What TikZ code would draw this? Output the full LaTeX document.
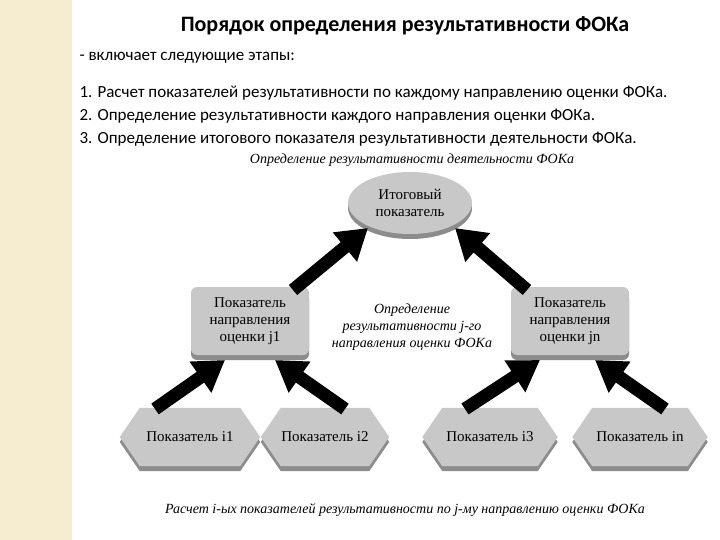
\documentclass[tikz,border=0pt]{standalone}
\usepackage{fontspec}
\setmainfont{Liberation Serif}
\newfontfamily\calib{Carlito}
\usetikzlibrary{shapes.geometric,arrows.meta,shadows}
\definecolor{boxgray}{RGB}{200,200,200}
\definecolor{shgray}{RGB}{140,140,140}
\definecolor{beige}{RGB}{246,236,208}
\tikzset{
 ell/.style={ellipse,fill=boxgray,minimum width=124pt,minimum height=62pt,inner sep=1pt,align=center,font=\fontsize{15}{17}\selectfont,
   drop shadow={shadow xshift=0pt,shadow yshift=-5pt,fill=shgray,opacity=1}},
 rbox/.style={rectangle,rounded corners=6pt,fill=boxgray,minimum width=118pt,minimum height=68pt,inner sep=1pt,align=center,font=\fontsize{15}{17}\selectfont,
   drop shadow={shadow xshift=0pt,shadow yshift=-5pt,fill=shgray,opacity=1}},
 hexlab/.style={rectangle,minimum height=58pt,inner sep=0pt},
 fat/.style={line width=13pt,black,-{Triangle[length=30pt,width=36pt]}},
 captxt/.style={font=\itshape\fontsize{14}{16}\selectfont,align=center},
 txt/.style={font=\calib\fontsize{17}{19}\selectfont,anchor=west},
}
\newcommand{\myhex}[5]{%
 \node[hexlab,minimum width=#4pt] (#1) at (#2,#3) {};
 \fill[shgray] ([yshift=-5pt]#1.west) -- ([xshift=20pt,yshift=-5pt]#1.north west) -- ([xshift=-20pt,yshift=-5pt]#1.north east) -- ([yshift=-5pt]#1.east) -- ([xshift=-20pt,yshift=-5pt]#1.south east) -- ([xshift=20pt,yshift=-5pt]#1.south west) -- cycle;
 \fill[boxgray] (#1.west) -- ([xshift=20pt]#1.north west) -- ([xshift=-20pt]#1.north east) -- (#1.east) -- ([xshift=-20pt]#1.south east) -- ([xshift=20pt]#1.south west) -- cycle;
 \node[font=\fontsize{15}{17}\selectfont] at (#1) {#5};}
\begin{document}
\begin{tikzpicture}[x=1pt,y=-1pt]
\useasboundingbox (0,0) rectangle (720,540);
\fill[white] (0,0) rectangle (720,540);
\fill[beige] (0,0) rectangle (72,540);
\node[font=\calib\bfseries\fontsize{22}{25}\selectfont] (title) at (405,26) {Порядок определения результативности ФОКа};
\node[txt] (l0) at (76,58) {- включает следующие этапы:};
\node[txt] (l1) at (76,93) {1. Расчет показателей результативности по каждому направлению оценки ФОКа.};
\node[txt] (l2) at (76,116) {2. Определение результативности каждого направления оценки ФОКа.};
\node[txt] (l3) at (76,139) {3. Определение итогового показателя результативности деятельности ФОКа.};
\node[captxt] (c1) at (412,160) {Определение результативности деятельности ФОКа};
\myhex{i1}{190}{437}{140}{Показатель i1}
\myhex{i2}{325}{437}{128}{Показатель i2}
\myhex{i3}{490}{437}{135}{Показатель i3}
\myhex{in}{640}{437}{135}{Показатель in}
\node[ell] (top) at (410,203) {Итоговый\\показатель};
\node[rbox] (j1) at (250,321) {Показатель\\направления\\оценки j1};
\node[rbox] (jn) at (570,321) {Показатель\\направления\\оценки jn};
\node[captxt,font=\itshape\fontsize{14}{17}\selectfont] (c2) at (412,327) {Определение\\результативности j-го\\направления оценки ФОКа};
\node[captxt] (c3) at (405,510) {Расчет i-ых показателей результативности по j-му направлению оценки ФОКа};
\coordinate (a1) at (293,290); \coordinate (b1) at (368,228);
\coordinate (a2) at (527,290); \coordinate (b2) at (455,228);
\draw[fat] (a1) -- (b1);
\draw[fat] (a2) -- (b2);
\draw[fat] ([shift={(-35,-28)}]i1.center) -- ([shift={(-25,39)}]j1.center);
\draw[fat] ([shift={(20,-28)}]i2.center) -- ([shift={(25,39)}]j1.center);
\draw[fat] ([shift={(-25,-28)}]i3.center) -- ([shift={(-30,39)}]jn.center);
\draw[fat] ([shift={(25,-28)}]in.center) -- ([shift={(25,39)}]jn.center);
\end{tikzpicture}
\end{document}
